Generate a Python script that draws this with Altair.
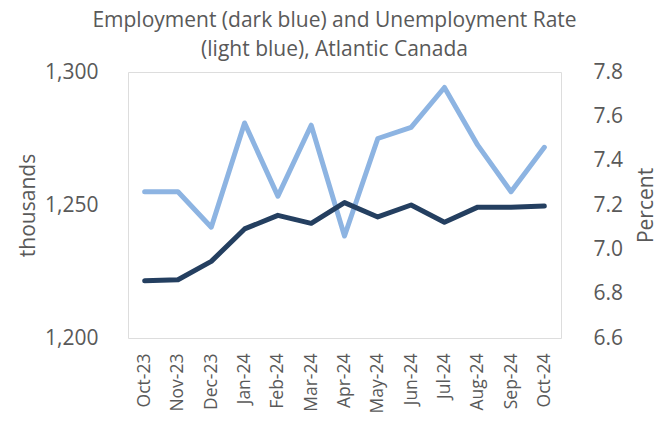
import altair as alt
import pandas as pd

months = ["Oct-23", "Nov-23", "Dec-23", "Jan-24", "Feb-24", "Mar-24", "Apr-24",
          "May-24", "Jun-24", "Jul-24", "Aug-24", "Sep-24", "Oct-24"]
employment = [1221.5, 1221.9, 1228.8, 1241.0, 1246.1, 1243.1, 1250.9,
              1245.5, 1250.0, 1243.5, 1249.2, 1249.2, 1249.6]
unemp_rate = [7.26, 7.26, 7.10, 7.57, 7.24, 7.56, 7.06,
              7.50, 7.55, 7.73, 7.47, 7.26, 7.46]

df = pd.DataFrame({"month": months, "employment": employment, "rate": unemp_rate})

FONT = "Open Sans"
GREY = "#595959"

x = alt.X("month:N", sort=months, title=None,
          scale=alt.Scale(type="point", padding=0.5),
          axis=alt.Axis(labelAngle=270, labelFontSize=17.5, labelColor=GREY, labelFont=FONT,
                        ticks=False, domain=False, labelPadding=15, grid=False))

emp = alt.Chart(df).mark_line(color="#243F60", strokeWidth=5, strokeCap="round", strokeJoin="round").encode(
    x=x,
    y=alt.Y("employment:Q", title="thousands",
            scale=alt.Scale(domain=[1200, 1300], nice=False, zero=False),
            axis=alt.Axis(values=[1200, 1250, 1300], format=",d", labelFontSize=21, labelColor=GREY,
                          labelFont=FONT, titleFont=FONT, titleFontSize=21, titleColor=GREY,
                          titleFontWeight="normal", ticks=False, domain=False, labelPadding=30,
                          titlePadding=6, gridColor="#D9D9D9", gridWidth=1.5))
)

rate = alt.Chart(df).mark_line(color="#8DB4E2", strokeWidth=5, strokeCap="round", strokeJoin="round").encode(
    x=x,
    y=alt.Y("rate:Q", title="Percent",
            scale=alt.Scale(domain=[6.6, 7.8], nice=False, zero=False),
            axis=alt.Axis(orient="right", values=[6.6, 6.8, 7.0, 7.2, 7.4, 7.6, 7.8], format=".1f",
                          labelFontSize=21, labelColor=GREY, labelFont=FONT, titleFont=FONT,
                          titleFontSize=21, titleColor=GREY, titleFontWeight="normal",
                          titleAngle=270, titleBaseline="middle", titleAlign="center",
                          titleX=85, titleY=133,
                          ticks=False, domain=False, grid=False, labelPadding=32))
)

chart = alt.layer(rate, emp).resolve_scale(y="independent").properties(
    width=433, height=266,
    title=alt.Title(["Employment (dark blue) and Unemployment Rate", "(light blue), Atlantic Canada"],
                    font=FONT, fontSize=21, fontWeight="normal", color=GREY, lineHeight=29,
                    anchor="middle", dx=-10, offset=1),
    autosize=alt.AutoSizeParams(type="none"),
    padding={"left": 120, "top": 64, "right": 97, "bottom": 76},
).configure_view(strokeWidth=0).configure(background="white")

chart.save("out.html", embed_options={"renderer": "svg", "actions": False})
